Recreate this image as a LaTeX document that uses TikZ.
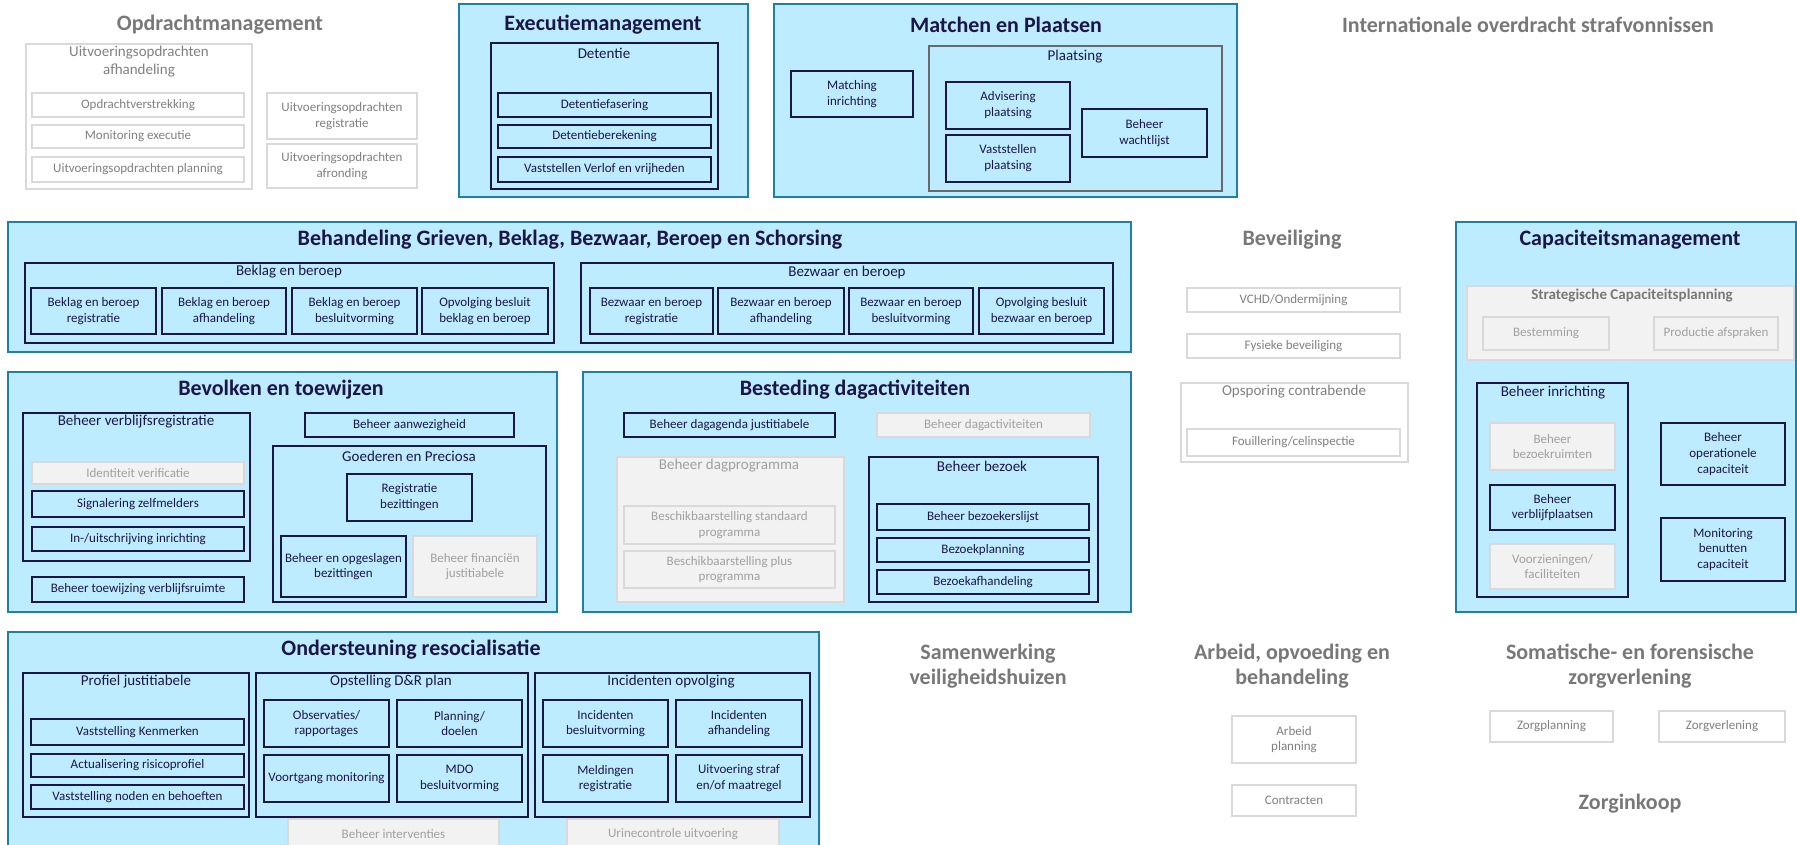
\documentclass[tikz,border=0pt]{standalone}
\usepackage{fontspec}
\setmainfont{Carlito}
\definecolor{vakblauw}{RGB}{189,235,255}
\definecolor{kaderrand}{RGB}{30,128,170}
\definecolor{donkerblauw}{RGB}{28,22,72}
\definecolor{lichtgrijs}{RGB}{242,242,242}
\definecolor{grijsrand}{RGB}{217,217,217}
\definecolor{grijstekst}{RGB}{160,160,160}
\definecolor{leegtekst}{RGB}{128,128,128}
\definecolor{kopgrijs}{RGB}{120,120,120}
\definecolor{plaatsrand}{RGB}{105,105,105}
\tikzset{
  kader/.style={draw=kaderrand, fill=vakblauw, line width=0.8pt, inner sep=0pt},
  titel/.style={font=\bfseries\fontsize{11}{12.5}\selectfont, text=donkerblauw, align=center},
  grijstitel/.style={titel, text=kopgrijs},
  groep/.style={draw=donkerblauw, line width=1.2pt, inner sep=0pt},
  plaatsgroep/.style={draw=plaatsrand, line width=1pt, inner sep=0pt},
  grijsgroep/.style={draw=grijsrand, fill=lichtgrijs, line width=1pt, inner sep=0pt},
  leeggroep/.style={draw=grijsrand, fill=white, line width=1pt, inner sep=0pt},
  groeplabel/.style={font=\fontsize{7.5}{9}\selectfont, text=donkerblauw, align=center},
  leeglabel/.style={groeplabel, text=leegtekst},
  grijslabel/.style={groeplabel, text=grijstekst},
  taak/.style={draw=donkerblauw, line width=1.2pt, inner sep=1pt, align=center,
    text=donkerblauw, font=\fontsize{6.5}{7.9}\selectfont},
  grijstaak/.style={taak, draw=grijsrand, fill=lichtgrijs, line width=1pt, text=grijstekst},
  leegtaak/.style={taak, draw=grijsrand, fill=white, line width=1pt, text=leegtekst}
}
% box from corner (#3,#4) to corner (#5,#6), in pixels of the plate
\newcommand{\bx}[7]{%
  \node[#2, minimum width={(#5-#3)*0.5pt}, minimum height={(#6-#4)*0.5pt}]
    (#1) at ({(#3+#5)/2},{(#4+#6)/2}) {#7};}
\begin{document}
\begin{tikzpicture}[x=0.5pt, y=-0.5pt]
  \clip (0,0) rectangle (1797,845);
  \fill[white] (0,0) rectangle (1797,845);

  % Opdrachtmanagement
  \node[grijstitel] (opdr-titel) at (220,25) {Opdrachtmanagement};
  \bx{uitv-afh}{leeggroep}{26}{44}{252}{189}{}
  \node[leeglabel] (uitv-afh-kop) at (139,62) {Uitvoeringsopdrachten\\afhandeling};
  \bx{opdr-verstr}{leegtaak}{32}{93}{244}{117}{Opdrachtverstrekking}
  \bx{mon-exec}{leegtaak}{32}{125}{244}{148}{Monitoring executie}
  \bx{uitv-plan}{leegtaak}{32}{157}{244}{182}{Uitvoeringsopdrachten planning}
  \bx{uitv-reg}{leegtaak}{267}{93}{417}{139}{Uitvoeringsopdrachten\\registratie}
  \bx{uitv-afr}{leegtaak}{267}{144}{417}{188}{Uitvoeringsopdrachten\\afronding}

  % Executiemanagement
  \bx{exec}{kader}{459}{4}{748}{197}{}
  \node[titel] (exec-titel) at (603,25) {Executiemanagement};
  \bx{detentie}{groep}{491}{43}{718}{189}{}
  \node[groeplabel] (detentie-kop) at (604,53) {Detentie};
  \bx{det-fas}{taak}{498}{93}{711}{117}{Detentiefasering}
  \bx{det-ber}{taak}{498}{125}{711}{148}{Detentieberekening}
  \bx{verlof}{taak}{498}{157}{711}{182}{Vaststellen Verlof en vrijheden}

  % Matchen en Plaatsen
  \bx{matchen}{kader}{774}{4}{1237}{197}{}
  \node[titel] (matchen-titel) at (1006,25) {Matchen en Plaatsen};
  \bx{match-inr}{taak}{791}{71}{913}{117}{Matching\\inrichting}
  \bx{plaatsing}{plaatsgroep}{929}{46}{1222}{191}{}
  \node[groeplabel] (plaatsing-kop) at (1075,57) {Plaatsing};
  \bx{adv-pl}{taak}{946}{82}{1070}{129}{Advisering\\plaatsing}
  \bx{vast-pl}{taak}{946}{135}{1070}{182}{Vaststellen\\plaatsing}
  \bx{wachtlijst}{taak}{1082}{109}{1207}{157}{Beheer\\wachtlijst}

  \node[grijstitel] (intern-titel) at (1528,25) {Internationale overdracht strafvonnissen};

  % Behandeling grieven
  \bx{behandeling}{kader}{8}{222}{1131}{352}{}
  \node[titel] (behandeling-titel) at (570,240) {Behandeling Grieven, Beklag, Bezwaar, Beroep en Schorsing};
  \bx{beklag}{groep}{25}{263}{554}{343}{}
  \node[groeplabel] (beklag-kop) at (289,272) {Beklag en beroep};
  \bx{bekl-reg}{taak}{31}{288}{156}{334}{Beklag en beroep\\registratie}
  \bx{bekl-afh}{taak}{162}{288}{286}{334}{Beklag en beroep\\afhandeling}
  \bx{bekl-bes}{taak}{292}{288}{417}{334}{Beklag en beroep\\besluitvorming}
  \bx{bekl-opv}{taak}{422}{288}{548}{334}{Opvolging besluit\\beklag en beroep}
  \bx{bezwaar}{groep}{581}{263}{1113}{343}{}
  \node[groeplabel] (bezwaar-kop) at (847,272) {Bezwaar en beroep};
  \bx{bezw-reg}{taak}{590}{288}{713}{334}{Bezwaar en beroep\\registratie}
  \bx{bezw-afh}{taak}{718}{288}{844}{334}{Bezwaar en beroep\\afhandeling}
  \bx{bezw-bes}{taak}{849}{288}{973}{334}{Bezwaar en beroep\\besluitvorming}
  \bx{bezw-opv}{taak}{979}{288}{1104}{334}{Opvolging besluit\\bezwaar en beroep}

  % Beveiliging
  \node[grijstitel] (bev-titel) at (1292,240) {Beveiliging};
  \bx{vchd}{leegtaak}{1187}{288}{1400}{312}{VCHD/Ondermijning}
  \bx{fysiek}{leegtaak}{1187}{334}{1400}{358}{Fysieke beveiliging}
  \bx{opsporing}{leeggroep}{1181}{383}{1408}{462}{}
  \node[leeglabel] (opsporing-kop) at (1294,392) {Opsporing contrabende};
  \bx{fouill}{leegtaak}{1187}{429}{1400}{456}{Fouillering/celinspectie}

  % Capaciteitsmanagement
  \bx{capaciteit}{kader}{1456}{222}{1796}{612}{}
  \node[titel] (cap-titel) at (1630,240) {Capaciteitsmanagement};
  \bx{strategisch}{grijsgroep}{1467}{286}{1794}{360}{}
  \node[grijslabel, text=kopgrijs, font=\bfseries\fontsize{7.5}{9}\selectfont] (strategisch-kop) at (1632,296) {Strategische Capaciteitsplanning};
  \bx{bestemming}{grijstaak}{1483}{317}{1609}{350}{Bestemming}
  \bx{productie}{grijstaak}{1654}{317}{1778}{350}{Productie afspraken}
  \bx{inrichting}{groep}{1477}{383}{1628}{597}{}
  \node[groeplabel] (inrichting-kop) at (1553,393) {Beheer inrichting};
  \bx{bezoekruimten}{grijstaak}{1490}{423}{1615}{470}{Beheer\\bezoekruimten}
  \bx{verblijfpl}{taak}{1490}{485}{1615}{530}{Beheer\\verblijfplaatsen}
  \bx{voorzieningen}{grijstaak}{1490}{544}{1615}{589}{Voorzieningen/\\faciliteiten}
  \bx{operationeel}{taak}{1661}{423}{1785}{485}{Beheer\\operationele\\capaciteit}
  \bx{benutten}{taak}{1661}{518}{1785}{581}{Monitoring\\benutten\\capaciteit}

  % Bevolken en toewijzen
  \bx{bevolken}{kader}{8}{372}{557}{612}{}
  \node[titel] (bevolken-titel) at (281,390) {Bevolken en toewijzen};
  \bx{verblijfsreg}{groep}{23}{413}{250}{561}{}
  \node[groeplabel] (verblijfsreg-kop) at (136,422) {Beheer verblijfsregistratie};
  \bx{identiteit}{grijstaak}{32}{462}{244}{484}{Identiteit verificatie}
  \bx{zelfmelders}{taak}{32}{491}{244}{517}{Signalering zelfmelders}
  \bx{inuitschr}{taak}{32}{527}{244}{551}{In-/uitschrijving inrichting}
  \bx{toewijzing}{taak}{32}{577}{244}{602}{Beheer toewijzing verblijfsruimte}
  \bx{aanwezigheid}{taak}{305}{413}{514}{437}{Beheer aanwezigheid}
  \bx{goederen}{groep}{273}{446}{546}{602}{}
  \node[groeplabel] (goederen-kop) at (409,456) {Goederen en Preciosa};
  \bx{reg-bez}{taak}{347}{474}{472}{521}{Registratie\\bezittingen}
  \bx{opgeslagen}{taak}{281}{536}{406}{597}{Beheer en opgeslagen\\bezittingen}
  \bx{financien}{grijstaak}{413}{536}{537}{597}{Beheer financiën\\justitiabele}

  % Besteding dagactiviteiten
  \bx{besteding}{kader}{583}{372}{1131}{612}{}
  \node[titel] (besteding-titel) at (855,390) {Besteding dagactiviteiten};
  \bx{dagagenda}{taak}{624}{413}{835}{437}{Beheer dagagenda justitiabele}
  \bx{dagact}{grijstaak}{877}{413}{1090}{437}{Beheer dagactiviteiten}
  \bx{dagprogramma}{grijsgroep}{617}{457}{844}{602}{}
  \node[grijslabel] (dagprogramma-kop) at (729,466) {Beheer dagprogramma};
  \bx{standaard}{grijstaak}{624}{506}{835}{544}{Beschikbaarstelling standaard\\programma}
  \bx{plus}{grijstaak}{624}{551}{835}{588}{Beschikbaarstelling plus\\programma}
  \bx{bezoek}{groep}{869}{457}{1098}{602}{}
  \node[groeplabel] (bezoek-kop) at (982,466) {Beheer bezoek};
  \bx{bezoekerslijst}{taak}{877}{504}{1089}{530}{Beheer bezoekerslijst}
  \bx{bezoekplan}{taak}{877}{538}{1089}{562}{Bezoekplanning}
  \bx{bezoekafh}{taak}{877}{570}{1089}{594}{Bezoekafhandeling}

  % Ondersteuning resocialisatie
  \bx{resocialisatie}{kader}{8}{632}{819}{852}{}
  \node[titel] (reso-titel) at (411,650) {Ondersteuning resocialisatie};
  \bx{profiel}{groep}{23}{673}{249}{817}{}
  \node[groeplabel] (profiel-kop) at (136,682) {Profiel justitiabele};
  \bx{kenmerken}{taak}{31}{719}{244}{745}{Vaststelling Kenmerken}
  \bx{risico}{taak}{31}{754}{244}{777}{Actualisering risicoprofiel}
  \bx{noden}{taak}{31}{785}{244}{809}{Vaststelling noden en behoeften}
  \bx{dr-plan}{groep}{256}{673}{528}{817}{}
  \node[groeplabel] (dr-plan-kop) at (391,682) {Opstelling D\&R plan};
  \bx{observaties}{taak}{264}{700}{389}{747}{Observaties/\\rapportages}
  \bx{doelen}{taak}{397}{700}{522}{747}{Planning/\\doelen}
  \bx{voortgang}{taak}{264}{755}{389}{802}{Voortgang monitoring}
  \bx{mdo}{taak}{397}{755}{522}{802}{MDO\\besluitvorming}
  \bx{incidenten}{groep}{535}{673}{810}{817}{}
  \node[groeplabel] (incidenten-kop) at (671,682) {Incidenten opvolging};
  \bx{inc-bes}{taak}{543}{700}{668}{747}{Incidenten\\besluitvorming}
  \bx{inc-afh}{taak}{676}{700}{802}{747}{Incidenten\\afhandeling}
  \bx{meldingen}{taak}{543}{755}{668}{802}{Meldingen\\registratie}
  \bx{straf}{taak}{676}{755}{802}{802}{Uitvoering straf\\en/of maatregel}
  \bx{interventies}{grijstaak}{288}{819}{499}{850}{Beheer interventies}
  \bx{urine}{grijstaak}{567}{819}{779}{850}{Urinecontrole uitvoering}

  % losse domeinen onderaan
  \node[grijstitel] (samenwerking-titel) at (988,666) {Samenwerking\\veiligheidshuizen};
  \node[grijstitel] (arbeid-titel) at (1292,666) {Arbeid, opvoeding en\\behandeling};
  \bx{arbeid-plan}{leegtaak}{1232}{716}{1356}{763}{Arbeid\\planning}
  \bx{contracten}{leegtaak}{1232}{785}{1356}{816}{Contracten}
  \node[grijstitel] (zorg-titel) at (1630,666) {Somatische- en forensische\\zorgverlening};
  \bx{zorgplanning}{leegtaak}{1490}{711}{1613}{742}{Zorgplanning}
  \bx{zorgverlening}{leegtaak}{1659}{711}{1785}{742}{Zorgverlening}
  \node[grijstitel] (zorginkoop-titel) at (1630,804) {Zorginkoop};
\end{tikzpicture}
\end{document}
